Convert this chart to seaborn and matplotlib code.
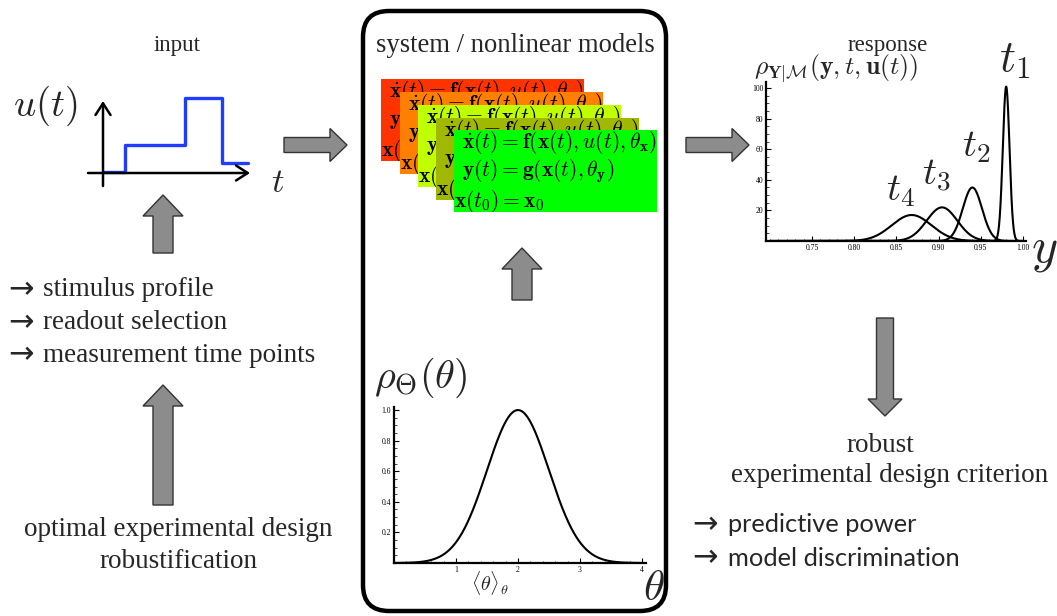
import numpy as np
import pandas as pd
import matplotlib
matplotlib.use("Agg")
import matplotlib.pyplot as plt
import seaborn as sns
from matplotlib.patches import FancyArrow, FancyBboxPatch
from matplotlib.ticker import MultipleLocator, FixedLocator

# ---------------- data ----------------
input_times = [0.0, 1.1, 4.1, 5.95, 7.25]
input_levels = [0.02, 0.56, 1.5, 0.2, 0.2]

theta_mean = 2.0
theta_sd = 0.5
theta_peak = 1.0
theta_xticks = [1, 2, 3, 4]
theta_yticks = [0.2, 0.4, 0.6, 0.8, 1.0]

resp_labels = [r'$t_1$', r'$t_2$', r'$t_3$', r'$t_4$']
resp_means = [0.980, 0.940, 0.904, 0.868]
resp_peaks = [101.0, 35.0, 22.0, 17.0]
resp_xticks = [0.75, 0.80, 0.85, 0.90, 0.95, 1.00]
resp_yticks = [20, 40, 60, 80, 100]

model_colors = ['#ff3300', '#ff7f00', '#bfff00', '#a0b800', '#00ff00']
model_equations = [
    r'$\dot{\mathbf{x}}(t) = \mathbf{f}(\mathbf{x}(t), u(t), \theta_\mathbf{x})$',
    r'$\mathbf{y}(t) = \mathbf{g}(\mathbf{x}(t), \theta_\mathbf{y})$',
    r'$\mathbf{x}(t_0) = \mathbf{x}_0$',
]

input_notes = ['stimulus profile', 'readout selection', 'measurement time points']
criterion_notes = ['predictive power', 'model discrimination']
bullet = '→'

# ---------------- setup ----------------
W, H = 1057, 616
sns.set_theme(style="white")
plt.rcParams['font.family'] = ['Liberation Serif', 'DejaVu Serif']
plt.rcParams['mathtext.fontset'] = 'cm'
SANS = ['Lato', 'DejaVu Sans']
SERIF = ['Liberation Serif', 'DejaVu Serif']

fig = plt.figure(figsize=(W / 100, H / 100), dpi=100)
fig.patch.set_facecolor('white')
ax0 = fig.add_axes([0, 0, 1, 1])
ax0.set_xlim(0, W)
ax0.set_ylim(H, 0)
ax0.axis('off')


def px_axes(x0, y0, x1, y1):
    a = fig.add_axes([x0 / W, 1 - y1 / H, (x1 - x0) / W, (y1 - y0) / H])
    a.set_facecolor('none')
    return a


def block_arrow(x, y, dx, dy, width, head_width, head_length):
    ax0.add_patch(FancyArrow(x, y, dx, dy, width=width, head_width=head_width,
                             head_length=head_length, length_includes_head=True,
                             fc='#8c8c8c', ec='#333333', lw=1.0, zorder=3))


# ---------------- frame and arrows ----------------
ax0.add_patch(FancyBboxPatch((363, 11), 303, 600,
                             boxstyle="round,pad=0,rounding_size=26",
                             fc='none', ec='black', lw=3.2, zorder=2))

block_arrow(163, 253, 0, -58, 20, 40, 21)
block_arrow(163, 505, 0, -120, 20, 40, 21)
block_arrow(284, 145, 63, 0, 15, 33, 17)
block_arrow(686, 145, 63, 0, 15, 33, 17)
block_arrow(522, 300, 0, -52, 20, 40, 21)
block_arrow(885, 318, 0, 98, 17, 34, 17)

# ---------------- texts ----------------
ax0.text(177, 45, 'input', ha='center', va='center', fontsize=16.5, family=SERIF)
ax0.text(515, 45, 'system / nonlinear models', ha='center', va='center', fontsize=19.2, family=SERIF)
ax0.text(888, 45, 'response', ha='center', va='center', fontsize=16.5, family=SERIF)

ax0.text(13, 116, r'$u(t)$', ha='left', va='baseline', fontsize=28)
ax0.text(271, 192, r'$t$', ha='left', va='baseline', fontsize=25)

for i, s in enumerate(input_notes):
    y = 290 + 32.5 * i
    ax0.text(8, y, bullet, ha='left', va='center', fontsize=22, family=['DejaVu Sans'])
    ax0.text(43, y, s, ha='left', va='center', fontsize=19.5, family=SERIF)

ax0.text(178, 530, 'optimal experimental design', ha='center', va='center', fontsize=19.5, family=SERIF)
ax0.text(178, 562, 'robustification', ha='center', va='center', fontsize=19.5, family=SERIF)

ax0.text(374, 388, r'$\rho_\Theta(\theta)$', ha='left', va='baseline', fontsize=29)
ax0.text(490, 583, r'$\langle\theta\rangle_\theta$', ha='center', va='center', fontsize=14.5)
ax0.text(643, 600, r'$\theta$', ha='left', va='baseline', fontsize=31)

ax0.text(754, 75, r'$\rho_{\mathbf{Y}|\mathcal{M}}(\mathbf{y},t,\mathbf{u}(t))$', ha='left', va='baseline', fontsize=18.5)
ax0.text(1031, 262, r'$y$', ha='left', va='baseline', fontsize=36)

ax0.text(880, 445, 'robust', ha='center', va='center', fontsize=19.5, family=SERIF)
ax0.text(890, 476, 'experimental design criterion', ha='center', va='center', fontsize=19.5, family=SERIF)
for i, s in enumerate(criterion_notes):
    y = 525 + 33 * i
    ax0.text(692, y, bullet, ha='left', va='center', fontsize=22, family=['DejaVu Sans'])
    ax0.text(728, y, s, ha='left', va='center', fontsize=18.3, family=SANS)

# ---------------- input profile ----------------
ax_in = px_axes(88, 95, 252, 186)
sns.lineplot(x=input_times, y=input_levels, drawstyle='steps-post', color='#1f3cff',
             lw=2.4, ax=ax_in, estimator=None, sort=False)
ax_in.set_xlim((88 - 103) / 20, (252 - 103) / 20)
ax_in.set_ylim((173 - 186) / 50, (173 - 95) / 50)
ax_in.axis('off')
ax_in.annotate('', xy=(7.35, 0), xytext=(-0.75, 0),
               arrowprops=dict(arrowstyle='->,head_length=0.7,head_width=0.45', lw=1.8, color='black',
                               shrinkA=0, shrinkB=0))
ax_in.annotate('', xy=(0, 1.44), xytext=(0, -0.26),
               arrowprops=dict(arrowstyle='->,head_length=0.7,head_width=0.45', lw=1.8, color='black',
                               shrinkA=0, shrinkB=0))

# ---------------- model boxes ----------------
box_origins = [(381, 79), (400, 92), (418, 105), (436, 118), (454, 130)]
for (bx, by), col in zip(box_origins, model_colors):
    bw, bh = 203, 82
    axb = fig.add_axes([bx / W, 1 - (by + bh) / H, bw / W, bh / H])
    axb.set_facecolor(col)
    axb.set_xticks([])
    axb.set_yticks([])
    for sp in axb.spines.values():
        sp.set_visible(False)
    offs = [(8, 18), (8, 46), (0, 77)]
    for (ox, oy), eq in zip(offs, model_equations):
        axb.text(ox / bw, 1 - oy / bh, eq, transform=axb.transAxes, ha='left', va='baseline',
                 fontsize=15.5, clip_on=True, color='black')

# ---------------- parameter density ----------------
theta_grid = np.linspace(0, 4, 400)
theta_density = theta_peak * np.exp(-0.5 * ((theta_grid - theta_mean) / theta_sd) ** 2)
ax_th = px_axes(394, 407, 646, 563)
sns.lineplot(x=theta_grid, y=theta_density, color='black', lw=1.5, ax=ax_th)
ax_th.set_xlim(0, 4.065)
ax_th.set_ylim(0, 1.02)

# ---------------- response densities ----------------
y_grid = np.linspace(0.70, 1.0, 1500)
resp_df = []
for lab, m, p in zip(resp_labels, resp_means, resp_peaks):
    sd = 1.0 / (p * np.sqrt(2 * np.pi))
    resp_df.append(pd.DataFrame({'y': y_grid, 'rho': p * np.exp(-0.5 * ((y_grid - m) / sd) ** 2), 't': lab}))
resp_df = pd.concat(resp_df, ignore_index=True)
ax_r = px_axes(766, 82, 1026, 241)
sns.lineplot(data=resp_df, x='y', y='rho', hue='t', palette=['black'] * 4, lw=1.5,
             ax=ax_r, legend=False, estimator=None)
ax_r.set_xlim(0.6955, 1.0035)
ax_r.set_ylim(0, 104)

label_pos = [(999, 71, 32), (962, 156, 28), (922, 185, 28), (886, 200, 28)]
for lab, (lx, ly, fs) in zip(resp_labels, label_pos):
    ax0.text(lx, ly, lab, ha='left', va='baseline', fontsize=fs)

# ---------------- axis styling ----------------
for a, xt, yt, xfmt, yfmt, xmin, ymin in [
        (ax_th, theta_xticks, theta_yticks, '{:g}', '{:.1f}', 0.2, 0.05),
        (ax_r, resp_xticks, resp_yticks, '{:.2f}', '{:g}', 0.01, 5)]:
    a.set_xlabel('')
    a.set_ylabel('')
    a.xaxis.set_major_locator(FixedLocator(xt))
    a.yaxis.set_major_locator(FixedLocator(yt))
    a.set_xticklabels([xfmt.format(v) for v in xt], family=SERIF)
    a.set_yticklabels([yfmt.format(v) for v in yt], family=SERIF)
    a.xaxis.set_minor_locator(MultipleLocator(xmin))
    a.yaxis.set_minor_locator(MultipleLocator(ymin))
    a.tick_params(which='major', direction='in', length=3.5, width=0.8, labelsize=5.5, pad=2,
                  bottom=True, left=True, colors='black')
    a.tick_params(which='minor', direction='in', length=1.8, width=0.6, bottom=True, left=True)
    for s in ['top', 'right']:
        a.spines[s].set_visible(False)
    for s in ['left', 'bottom']:
        a.spines[s].set_color('black')
        a.spines[s].set_linewidth(1.6)
    a.grid(False)

fig.savefig('out.png', dpi=100, facecolor='white')
